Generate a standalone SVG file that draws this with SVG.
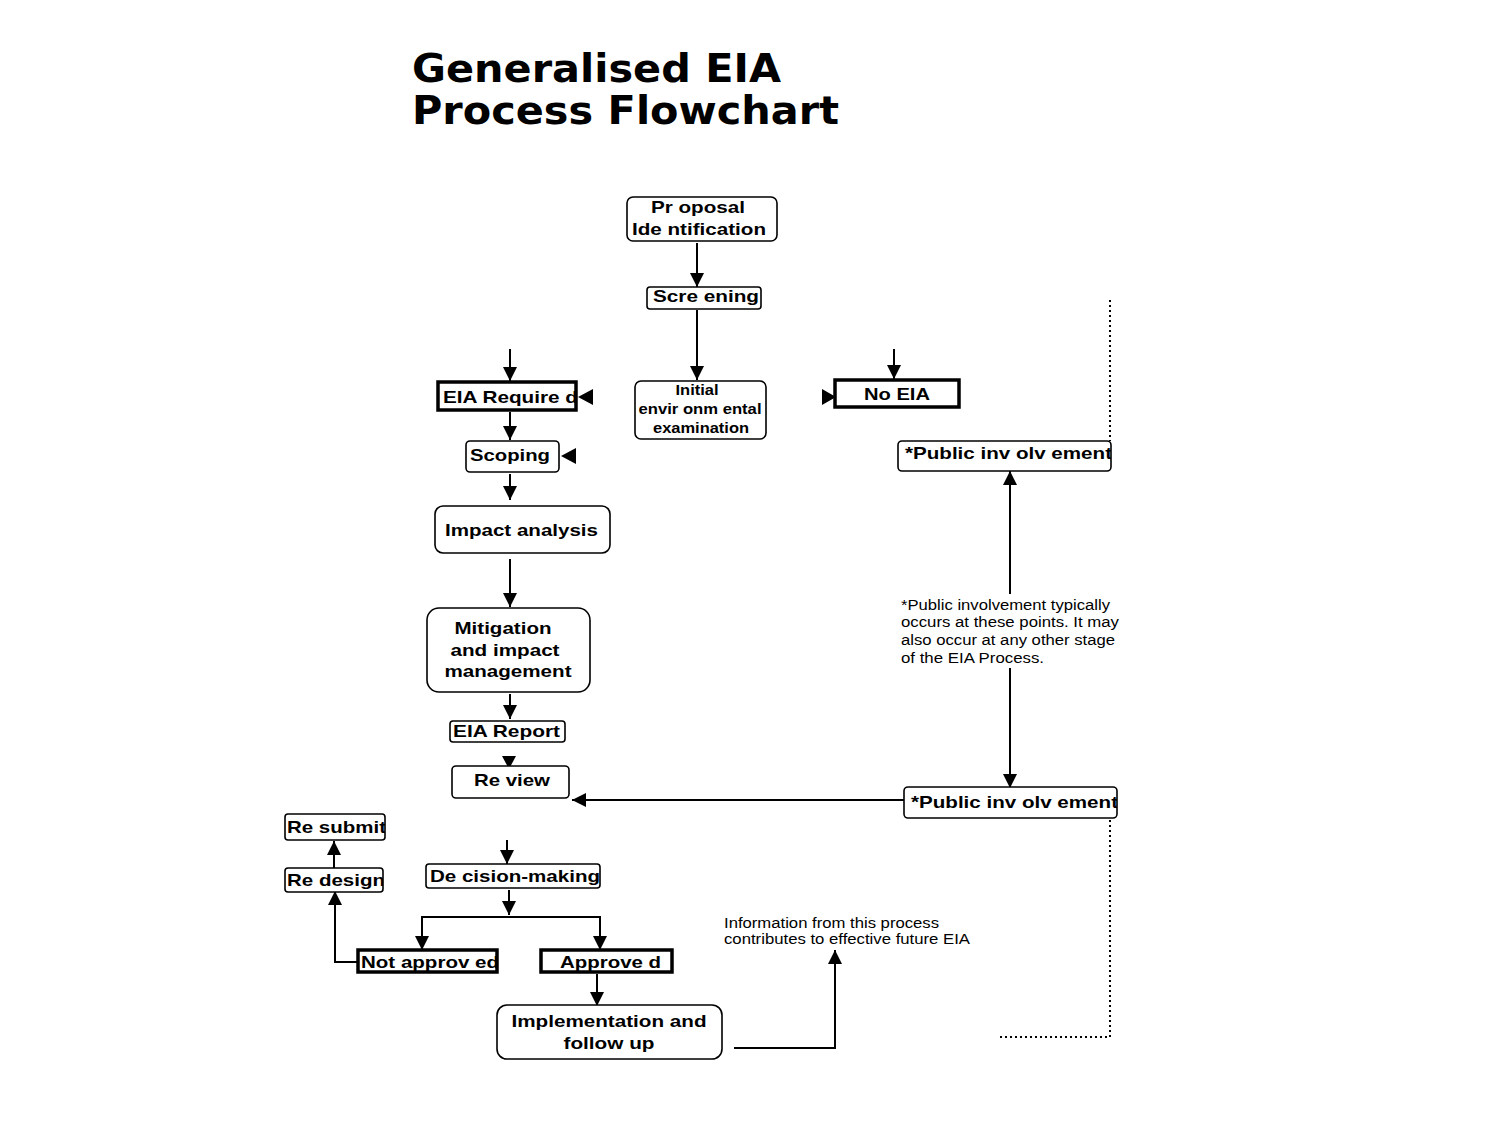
<svg xmlns="http://www.w3.org/2000/svg" width="1500" height="1125" viewBox="0 0 1500 1125">
<style>
.bx{fill:#fff;stroke:#000;stroke-width:1.6}
.tk{fill:none;stroke:#000;stroke-width:3.5}
.t{font-family:"Liberation Sans",Arial,sans-serif;font-weight:bold;font-size:17px;fill:#000}
.s{font-family:"Liberation Sans",Arial,sans-serif;font-weight:bold;font-size:14px;fill:#000}
.n{font-family:"Liberation Sans",Arial,sans-serif;font-size:14px;fill:#000}
.ttl{font-family:"DejaVu Sans",sans-serif;font-weight:bold;font-size:39px;fill:#000}
.c{fill:none;stroke:#000;stroke-width:2}
.d{fill:none;stroke:#000;stroke-width:2;stroke-dasharray:2,3}
</style>
<defs>
<marker id="ah" markerWidth="14" markerHeight="14" refX="14" refY="7" orient="auto" markerUnits="userSpaceOnUse"><path d="M0,0 L14,7 L0,14 z" fill="#000"/></marker>
<clipPath id="cReq"><rect x="438" y="382" width="138" height="28"/></clipPath>
<clipPath id="cPub1"><rect x="898" y="441" width="213" height="30"/></clipPath>
<clipPath id="cPub2"><rect x="904" y="787" width="213" height="31"/></clipPath>
<clipPath id="cSub"><rect x="285" y="814" width="100" height="26"/></clipPath>
<clipPath id="cDes"><rect x="285" y="868" width="98" height="24"/></clipPath>
<clipPath id="cNot"><rect x="358" y="950" width="139" height="22"/></clipPath>
</defs>
<rect width="1500" height="1125" fill="#fff"/>
<g id="title">
<text class="ttl" x="412" y="82" textLength="369" lengthAdjust="spacingAndGlyphs">Generalised EIA</text>
<text class="ttl" x="412" y="124" textLength="427" lengthAdjust="spacingAndGlyphs">Process Flowchart</text>
</g>
<g id="connectors">
<line class="c" x1="697" y1="243" x2="697" y2="287" marker-end="url(#ah)"/>
<line class="c" x1="697" y1="310" x2="697" y2="380" marker-end="url(#ah)"/>
<line class="c" x1="510" y1="349" x2="510" y2="381" marker-end="url(#ah)"/>
<line class="c" x1="894" y1="349" x2="894" y2="379" marker-end="url(#ah)"/>
<line class="c" x1="510" y1="412" x2="510" y2="440" marker-end="url(#ah)"/>
<line class="c" x1="510" y1="474" x2="510" y2="500" marker-end="url(#ah)"/>
<line class="c" x1="510" y1="559" x2="510" y2="607" marker-end="url(#ah)"/>
<line class="c" x1="510" y1="694" x2="510" y2="719" marker-end="url(#ah)"/>
<polygon points="502,756 516,756 509,769" fill="#000"/>
<polygon points="593,389 593,405 578,397" fill="#000"/>
<polygon points="576,448 576,464 561,456" fill="#000"/>
<polygon points="822,389 822,405 836,397" fill="#000"/>
<line class="c" x1="904" y1="800" x2="572" y2="800" marker-end="url(#ah)"/>
<line class="c" x1="1010" y1="594" x2="1010" y2="471" marker-end="url(#ah)"/>
<line class="c" x1="1010" y1="668" x2="1010" y2="788" marker-end="url(#ah)"/>
<line class="c" x1="507" y1="840" x2="507" y2="864" marker-end="url(#ah)"/>
<line class="c" x1="509" y1="890" x2="509" y2="915" marker-end="url(#ah)"/>
<line class="c" x1="421" y1="917" x2="601" y2="917"/>
<line class="c" x1="422" y1="917" x2="422" y2="950" marker-end="url(#ah)"/>
<line class="c" x1="600" y1="917" x2="600" y2="950" marker-end="url(#ah)"/>
<line class="c" x1="597" y1="974" x2="597" y2="1006" marker-end="url(#ah)"/>
<polyline class="c" points="358,962 335,962 335,891" marker-end="url(#ah)"/>
<line class="c" x1="334" y1="868" x2="334" y2="841" marker-end="url(#ah)"/>
<polyline class="c" points="734,1048 835,1048 835,950" marker-end="url(#ah)"/>
<line class="d" x1="1110" y1="300" x2="1110" y2="441"/>
<polyline class="d" points="1110,820 1110,1037 997,1037"/>
</g>
<g id="n-proposal">
<rect class="bx" x="627" y="197" width="150" height="44" rx="6"/>
<text class="t" x="698" y="213" text-anchor="middle" textLength="94" lengthAdjust="spacingAndGlyphs">Pr oposal</text>
<text class="t" x="699" y="235" text-anchor="middle" textLength="134" lengthAdjust="spacingAndGlyphs">Ide ntification</text>
</g>
<g id="n-screening">
<rect class="bx" x="647" y="287" width="114" height="22" rx="3"/>
<text class="t" x="653" y="302" textLength="106" lengthAdjust="spacingAndGlyphs">Scre ening</text>
</g>
<g id="n-iee">
<rect class="bx" x="635" y="381" width="131" height="58" rx="6"/>
<text class="s" x="697" y="395" text-anchor="middle" textLength="43" lengthAdjust="spacingAndGlyphs">Initial</text>
<text class="s" x="700" y="414" text-anchor="middle" textLength="123" lengthAdjust="spacingAndGlyphs">envir onm ental</text>
<text class="s" x="701" y="433" text-anchor="middle" textLength="96" lengthAdjust="spacingAndGlyphs">examination</text>
</g>
<g id="n-eiareq">
<rect x="438" y="382" width="138" height="28" fill="#fff"/>
<text class="t" x="443" y="403" clip-path="url(#cReq)" textLength="135" lengthAdjust="spacingAndGlyphs">EIA Require d</text>
<rect class="tk" x="438" y="382" width="138" height="28"/>
</g>
<g id="n-noeia">
<rect class="tk" x="835" y="380" width="124" height="27" fill="#fff"/>
<text class="t" x="897" y="400" text-anchor="middle" textLength="66" lengthAdjust="spacingAndGlyphs">No EIA</text>
</g>
<g id="n-scoping">
<rect class="bx" x="466" y="441" width="93" height="31" rx="4"/>
<text class="t" x="470" y="461" textLength="80" lengthAdjust="spacingAndGlyphs">Scoping</text>
</g>
<g id="n-impact">
<rect class="bx" x="435" y="506" width="175" height="47" rx="8"/>
<text class="t" x="445" y="536" textLength="153" lengthAdjust="spacingAndGlyphs">Impact analysis</text>
</g>
<g id="n-mitigation">
<rect class="bx" x="427" y="608" width="163" height="84" rx="12"/>
<text class="t" x="503" y="634" text-anchor="middle" textLength="97" lengthAdjust="spacingAndGlyphs">Mitigation</text>
<text class="t" x="505" y="656" text-anchor="middle" textLength="109" lengthAdjust="spacingAndGlyphs">and impact</text>
<text class="t" x="508" y="677" text-anchor="middle" textLength="127" lengthAdjust="spacingAndGlyphs">management</text>
</g>
<g id="n-report">
<rect class="bx" x="450" y="721" width="115" height="21" rx="3"/>
<text class="t" x="453" y="737" textLength="107" lengthAdjust="spacingAndGlyphs">EIA Report</text>
</g>
<g id="n-review">
<rect class="bx" x="452" y="766" width="117" height="32" rx="4"/>
<text class="t" x="474" y="786" textLength="76" lengthAdjust="spacingAndGlyphs">Re view</text>
</g>
<g id="n-public1">
<rect class="bx" x="898" y="441" width="213" height="30" rx="4"/>
<text class="t" x="905" y="459" clip-path="url(#cPub1)" textLength="207" lengthAdjust="spacingAndGlyphs">*Public inv olv ement</text>
</g>
<g id="n-public2">
<rect class="bx" x="904" y="787" width="213" height="31" rx="4"/>
<text class="t" x="911" y="808" clip-path="url(#cPub2)" textLength="207" lengthAdjust="spacingAndGlyphs">*Public inv olv ement</text>
</g>
<g id="n-note">
<text class="n" x="901" y="610" textLength="209" lengthAdjust="spacingAndGlyphs">*Public involvement typically</text>
<text class="n" x="901" y="627" textLength="218" lengthAdjust="spacingAndGlyphs">occurs at these points. It may</text>
<text class="n" x="901" y="645" textLength="214" lengthAdjust="spacingAndGlyphs">also occur at any other stage</text>
<text class="n" x="901" y="663" textLength="143" lengthAdjust="spacingAndGlyphs">of the EIA Process.</text>
</g>
<g id="n-resubmit">
<rect class="bx" x="285" y="814" width="100" height="26" rx="3"/>
<text class="t" x="287" y="833" clip-path="url(#cSub)" textLength="99" lengthAdjust="spacingAndGlyphs">Re submit</text>
</g>
<g id="n-redesign">
<rect class="bx" x="285" y="868" width="98" height="24" rx="3"/>
<text class="t" x="287" y="886" clip-path="url(#cDes)" textLength="98" lengthAdjust="spacingAndGlyphs">Re design</text>
</g>
<g id="n-decision">
<rect class="bx" x="426" y="864" width="174" height="24" rx="3"/>
<text class="t" x="430" y="882" textLength="170" lengthAdjust="spacingAndGlyphs">De cision-making</text>
</g>
<g id="n-notapproved">
<rect x="358" y="950" width="139" height="22" fill="#fff"/>
<text class="t" x="361" y="968" clip-path="url(#cNot)" textLength="138" lengthAdjust="spacingAndGlyphs">Not approv ed</text>
<rect class="tk" x="358" y="950" width="139" height="22"/>
</g>
<g id="n-approved">
<rect class="tk" x="541" y="950" width="131" height="22" fill="#fff"/>
<text class="t" x="560" y="968" textLength="101" lengthAdjust="spacingAndGlyphs">Approve d</text>
</g>
<g id="n-impl">
<rect class="bx" x="497" y="1005" width="225" height="54" rx="10"/>
<text class="t" x="609" y="1027" text-anchor="middle" textLength="195" lengthAdjust="spacingAndGlyphs">Implementation and</text>
<text class="t" x="609" y="1049" text-anchor="middle" textLength="91" lengthAdjust="spacingAndGlyphs">follow up</text>
</g>
<g id="n-info">
<text class="n" x="724" y="928" textLength="215" lengthAdjust="spacingAndGlyphs">Information from this process</text>
<text class="n" x="724" y="944" textLength="246" lengthAdjust="spacingAndGlyphs">contributes to effective future EIA</text>
</g>
</svg>
